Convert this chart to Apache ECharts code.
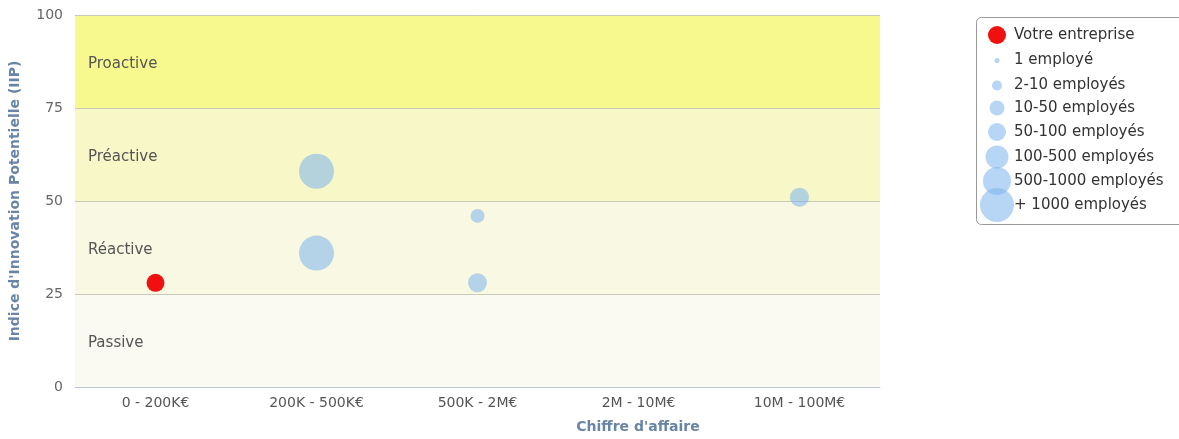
<!DOCTYPE html>
<html>
<head>
<meta charset="utf-8">
<script src="https://cdn.jsdelivr.net/npm/echarts@6/dist/echarts.min.js"></script>
<style>
  html, body { margin: 0; padding: 0; background: #fff; }
  #chart { width: 1179px; height: 439px; }
</style>
</head>
<body>
<div id="chart"></div>
<script>
  // x categories (turnover ranges)
  const categories = ['0 - 200K€', '200K - 500K€', '500K - 2M€', '2M - 10M€', '10M - 100M€'];
  const yTicks = [0, 25, 50, 75, 100];

  // background bands of the IIP axis
  const bandNames = ['Passive', 'Réactive', 'Préactive', 'Proactive'];
  const bandFrom = [0, 25, 50, 75];
  const bandTo = [25, 50, 75, 100];

  // the company itself
  const companyName = 'Votre entreprise';
  const companyPoint = [0, 28];

  // employee classes (one series each)
  const sizeClasses = ['1 employé', '2-10 employés', '10-50 employés', '50-100 employés',
    '100-500 employés', '500-1000 employés', '+ 1000 employés'];

  // other companies: category index, IIP, employee class index
  const peerCategory = [1, 1, 2, 2, 4];
  const peerIIP = [58, 36, 46, 28, 51];
  const peerClass = [4, 4, 1, 2, 2];

  // styling
  const font = 'DejaVu Sans';
  const bandColors = ['#fafaf2', '#f8f8e3', '#f7f7c8', '#f7f98f'];
  const bubbleColor = 'rgba(124,181,236,0.55)';
  const plotSizes = [9, 14, 19, 25, 35, 42, 50];
  const legendSizes = [5, 10, 15, 18, 23, 28, 34];
  const legendRowY = [59, 84, 108, 132, 157, 181, 205];

  const chart = echarts.init(document.getElementById('chart'));

  let series = [];
  // coloured bands, kept under the grid lines
  series.push({
    type: 'scatter',
    data: [],
    z: 0,
    silent: true,
    markArea: {
      silent: true,
      label: {
        position: 'insideLeft',
        distance: 13,
        offset: [0, 3],
        color: '#555',
        fontFamily: font,
        fontSize: 15
      },
      data: bandNames.map((n, i) => [
        { name: n, yAxis: bandFrom[i], itemStyle: { color: bandColors[i] } },
        { yAxis: bandTo[i] }
      ])
    }
  });
  series.push({
    name: companyName,
    type: 'scatter',
    data: [companyPoint],
    symbolSize: 18,
    z: 6,
    itemStyle: { color: '#f01010', opacity: 1 }
  });
  sizeClasses.forEach((c, k) => {
    let pts = [];
    peerCategory.forEach((cat, i) => {
      if (peerClass[i] === k) pts.push([cat, peerIIP[i]]);
    });
    series.push({
      name: c,
      type: 'scatter',
      data: pts,
      z: 5,
      symbolSize: plotSizes[k],
      itemStyle: { color: bubbleColor, opacity: 1 }
    });
  });

  // one legend per entry so each icon gets its own size
  let legends = [];
  const iconX = 997, textX = 1014;
  const allNames = [companyName].concat(sizeClasses);
  const allSizes = [18].concat(legendSizes);
  const allY = [35].concat(legendRowY);
  allNames.forEach((n, i) => {
    const d = allSizes[i];
    const lh = 12;
    legends.push({
      data: [n],
      icon: 'circle',
      orient: 'vertical',
      left: iconX - d / 2,
      top: allY[i] - Math.max(d, lh) / 2,
      itemWidth: d,
      itemHeight: d,
      padding: 0,
      selectedMode: false,
      textStyle: {
        fontFamily: font,
        fontSize: 15,
        color: '#333',
        padding: [0, 0, 0, textX - (iconX + d / 2 + 5)]
      }
    });
  });

  chart.setOption({
    animation: false,
    textStyle: { fontFamily: font },
    grid: { left: 75, right: 299, top: 15, bottom: 52 },
    xAxis: {
      type: 'category',
      data: categories,
      boundaryGap: true,
      z: 4,
      axisLine: { lineStyle: { color: '#b8c8dc' } },
      axisTick: { length: 5, lineStyle: { color: '#b8c8dc' } },
      axisLabel: { color: '#555', fontSize: 14, margin: 9 },
      splitLine: { show: false }
    },
    yAxis: {
      type: 'value',
      min: yTicks[0],
      max: yTicks[yTicks.length - 1],
      interval: 25,
      z: 3,
      name: "Indice d'Innovation Potentielle (IIP)",
      nameLocation: 'middle',
      nameGap: 53,
      nameTextStyle: { color: '#6884a6', fontWeight: 'bold', fontSize: 14 },
      axisLine: { show: false },
      axisTick: { show: false },
      axisLabel: { color: '#666', fontSize: 14, margin: 12 },
      splitLine: { lineStyle: { color: '#c9c9b8' } }
    },
    legend: legends,
    graphic: [
      {
        type: 'rect',
        shape: { x: 976.5, y: 17.5, width: 210, height: 207, r: 5 },
        style: { fill: 'none', stroke: '#999', lineWidth: 1 },
        z: -1
      },
      {
        type: 'text',
        x: 638,
        y: 427,
        style: {
          text: "Chiffre d'affaire",
          fontFamily: font,
          fontWeight: 'bold',
          fontSize: 14,
          fill: '#6884a6',
          align: 'center',
          verticalAlign: 'middle'
        }
      }
    ],
    series: series
  });
</script>
</body>
</html>
